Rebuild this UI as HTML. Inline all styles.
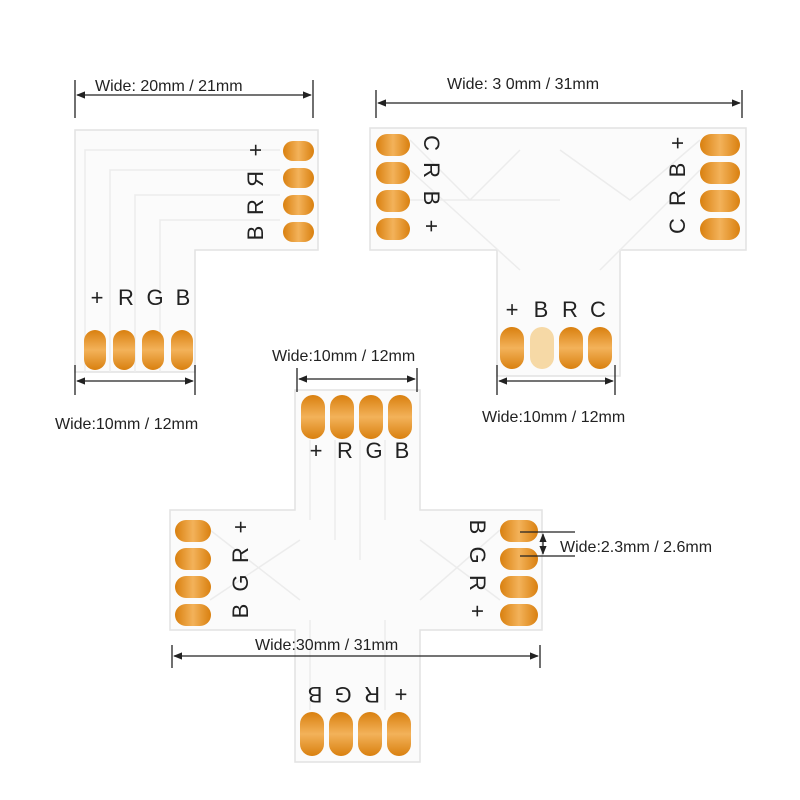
<!DOCTYPE html>
<html><head><style>body{margin:0;background:#fff}svg{display:block}</style></head><body>
<svg width="800" height="800" viewBox="0 0 800 800" xmlns="http://www.w3.org/2000/svg" font-family="Liberation Sans, sans-serif">
<defs>
<marker id="a" viewBox="0 0 10 10" refX="9" refY="5" markerWidth="7" markerHeight="7" orient="auto-start-reverse"><path d="M0,1 L10,5 L0,9z" fill="#222"/></marker>
<linearGradient id="p" x1="0" x2="1"><stop offset="0" stop-color="#d9800f"/><stop offset=".5" stop-color="#f3b25a"/><stop offset="1" stop-color="#d9800f"/></linearGradient>
<linearGradient id="pv" x1="0" x2="0" y1="0" y2="1"><stop offset="0" stop-color="#d9800f"/><stop offset=".5" stop-color="#f3b25a"/><stop offset="1" stop-color="#d9800f"/></linearGradient>
</defs>
<g fill="#fbfbfb" stroke="#e2e2e2" stroke-width="1.5">
<path d="M75,130 H318 V250 H195 V372 H75 Z"/>
<path d="M370,128 H746 V250 H620 V376 H497 V250 H370 Z"/>
<path d="M295,390 H420 V510 H542 V630 H420 V762 H295 V630 H170 V510 H295 Z"/>
</g>
<g fill="none" stroke="#ececec" stroke-width="1.5">
<path d="M85,372 V150 H280 M110,372 V170 H280 M135,372 V195 H280 M160,372 V220 H280"/>
<path d="M410,140 L470,200 L520,150 M410,170 L520,270 M410,200 L560,200 M700,140 L630,200 L560,150 M700,170 L600,270"/>
<path d="M310,440 V520 M335,440 V540 M360,440 V560 M385,440 V520 M210,530 L300,600 M210,600 L300,540 M500,530 L420,600 M500,600 L420,540 M310,710 V620 M385,710 V620"/>
</g>
<g fill="url(#p)">
<rect x="283" y="141" width="31" height="20" rx="10"/><rect x="283" y="168" width="31" height="20" rx="10"/><rect x="283" y="195" width="31" height="20" rx="10"/><rect x="283" y="222" width="31" height="20" rx="10"/>
<rect x="376" y="134" width="34" height="22" rx="11"/><rect x="376" y="162" width="34" height="22" rx="11"/><rect x="376" y="190" width="34" height="22" rx="11"/><rect x="376" y="218" width="34" height="22" rx="11"/>
<rect x="700" y="134" width="40" height="22" rx="11"/><rect x="700" y="162" width="40" height="22" rx="11"/><rect x="700" y="190" width="40" height="22" rx="11"/><rect x="700" y="218" width="40" height="22" rx="11"/>
<rect x="175" y="520" width="36" height="22" rx="11"/><rect x="175" y="548" width="36" height="22" rx="11"/><rect x="175" y="576" width="36" height="22" rx="11"/><rect x="175" y="604" width="36" height="22" rx="11"/>
<rect x="500" y="520" width="38" height="22" rx="11"/><rect x="500" y="548" width="38" height="22" rx="11"/><rect x="500" y="576" width="38" height="22" rx="11"/><rect x="500" y="604" width="38" height="22" rx="11"/>
</g>
<g fill="url(#pv)">
<rect x="84" y="330" width="22" height="40" rx="11"/><rect x="113" y="330" width="22" height="40" rx="11"/><rect x="142" y="330" width="22" height="40" rx="11"/><rect x="171" y="330" width="22" height="40" rx="11"/>
<rect x="500" y="327" width="24" height="42" rx="12"/><rect x="530" y="327" width="24" height="42" rx="12" fill="#f6d9a6"/><rect x="559" y="327" width="24" height="42" rx="12"/><rect x="588" y="327" width="24" height="42" rx="12"/>
<rect x="301" y="395" width="24" height="44" rx="12"/><rect x="330" y="395" width="24" height="44" rx="12"/><rect x="359" y="395" width="24" height="44" rx="12"/><rect x="388" y="395" width="24" height="44" rx="12"/>
<rect x="300" y="712" width="24" height="44" rx="12"/><rect x="329" y="712" width="24" height="44" rx="12"/><rect x="358" y="712" width="24" height="44" rx="12"/><rect x="387" y="712" width="24" height="44" rx="12"/>
</g>
<g fill="#222" font-size="22" text-anchor="middle">
<text x="97" y="305">+</text><text x="126" y="305">R</text><text x="155" y="305">G</text><text x="183" y="305">B</text>
<g transform="translate(255,195) rotate(-90)"><text x="45" y="8">+</text><text x="16" y="8" transform="scale(-1,1) translate(-32,0)">R</text><text x="-12" y="8">R</text><text x="-38" y="8">B</text></g>
<g transform="translate(432,188) rotate(90)"><text x="-45" y="8">C</text><text x="-18" y="8">R</text><text x="10" y="8">B</text><text x="38" y="8">+</text></g>
<g transform="translate(677,188) rotate(-90)"><text x="45" y="8">+</text><text x="18" y="8">B</text><text x="-10" y="8">R</text><text x="-38" y="8">C</text></g>
<text x="512" y="317">+</text><text x="541" y="317">B</text><text x="570" y="317">R</text><text x="598" y="317">C</text>
<text x="316" y="458">+</text><text x="345" y="458">R</text><text x="374" y="458">G</text><text x="402" y="458">B</text>
<g transform="translate(240,572) rotate(-90)"><text x="45" y="8">+</text><text x="17" y="8">R</text><text x="-11" y="8">G</text><text x="-39" y="8">B</text></g>
<g transform="translate(478,572) rotate(90)"><text x="-45" y="8">B</text><text x="-17" y="8">G</text><text x="11" y="8">R</text><text x="39" y="8">+</text></g>
<g transform="translate(356,695) rotate(180)"><text x="-45" y="8">+</text><text x="-16" y="8">R</text><text x="13" y="8">G</text><text x="41" y="8">B</text></g>
</g>
<g stroke="#222" stroke-width="1.3" fill="none">
<path d="M75,80 V118 M313,80 V118 M376,90 V118 M742,90 V118 M75,365 V395 M195,365 V395 M497,365 V395 M615,365 V395 M297,368 V392 M417,368 V392 M172,645 V668 M540,645 V668 M520,532 H575 M520,556 H575"/>
<path d="M77,95 H311" marker-start="url(#a)" marker-end="url(#a)"/>
<path d="M378,103 H740" marker-start="url(#a)" marker-end="url(#a)"/>
<path d="M77,381 H193" marker-start="url(#a)" marker-end="url(#a)"/>
<path d="M499,381 H613" marker-start="url(#a)" marker-end="url(#a)"/>
<path d="M299,379 H415" marker-start="url(#a)" marker-end="url(#a)"/>
<path d="M174,656 H538" marker-start="url(#a)" marker-end="url(#a)"/>
<path d="M543,534 V554" marker-start="url(#a)" marker-end="url(#a)"/>
</g>
<g fill="#222" font-size="16">
<text x="95" y="91">Wide: 20mm / 21mm</text>
<text x="447" y="89">Wide: 3 0mm / 31mm</text>
<text x="55" y="429">Wide:10mm / 12mm</text>
<text x="482" y="422">Wide:10mm / 12mm</text>
<text x="272" y="361">Wide:10mm / 12mm</text>
<text x="255" y="650">Wide:30mm / 31mm</text>
<text x="560" y="552">Wide:2.3mm / 2.6mm</text>
</g>
</svg>
</body></html>
